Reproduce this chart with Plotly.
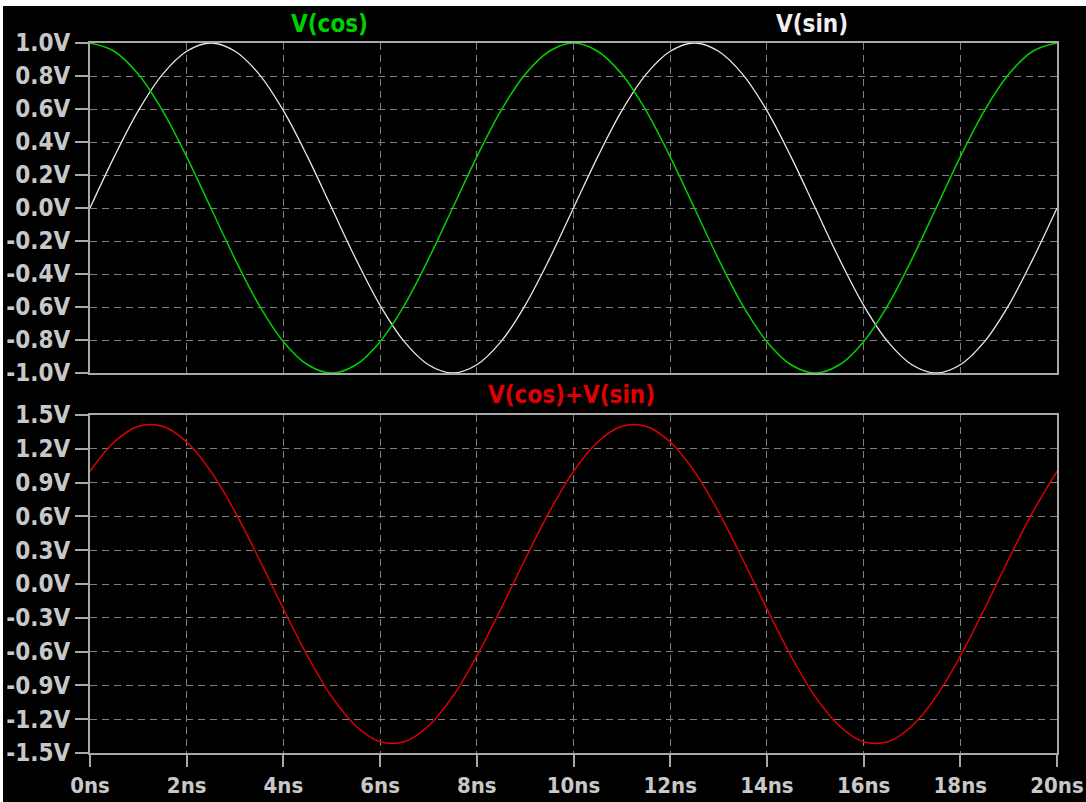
import plotly.graph_objects as go

# time axis (ns)
time_ns = [0.0, 0.5, 1.0, 1.5, 2.0, 2.5, 3.0, 3.5, 4.0, 4.5, 5.0, 5.5, 6.0, 6.5, 7.0, 7.5, 8.0, 8.5, 9.0, 9.5,
           10.0, 10.5, 11.0, 11.5, 12.0, 12.5, 13.0, 13.5, 14.0, 14.5, 15.0, 15.5, 16.0, 16.5, 17.0, 17.5,
           18.0, 18.5, 19.0, 19.5, 20.0]
v_cos = [1.00, 0.95, 0.81, 0.59, 0.31, 0.00, -0.31, -0.59, -0.81, -0.95, -1.00, -0.95, -0.81, -0.59, -0.31,
         0.00, 0.31, 0.59, 0.81, 0.95, 1.00, 0.95, 0.81, 0.59, 0.31, 0.00, -0.31, -0.59, -0.81, -0.95,
         -1.00, -0.95, -0.81, -0.59, -0.31, 0.00, 0.31, 0.59, 0.81, 0.95, 1.00]
v_sin = [0.00, 0.31, 0.59, 0.81, 0.95, 1.00, 0.95, 0.81, 0.59, 0.31, 0.00, -0.31, -0.59, -0.81, -0.95,
         -1.00, -0.95, -0.81, -0.59, -0.31, 0.00, 0.31, 0.59, 0.81, 0.95, 1.00, 0.95, 0.81, 0.59, 0.31,
         0.00, -0.31, -0.59, -0.81, -0.95, -1.00, -0.95, -0.81, -0.59, -0.31, 0.00]
v_sum = [1.00, 1.26, 1.40, 1.40, 1.26, 1.00, 0.64, 0.22, -0.22, -0.64, -1.00, -1.26, -1.40, -1.40, -1.26,
         -1.00, -0.64, -0.22, 0.22, 0.64, 1.00, 1.26, 1.40, 1.40, 1.26, 1.00, 0.64, 0.22, -0.22, -0.64,
         -1.00, -1.26, -1.40, -1.40, -1.26, -1.00, -0.64, -0.22, 0.22, 0.64, 1.00]

x_tickvals = [0, 2, 4, 6, 8, 10, 12, 14, 16, 18, 20]
x_ticktext = ["0ns", "2ns", "4ns", "6ns", "8ns", "10ns", "12ns", "14ns", "16ns", "18ns", "20ns"]
top_tickvals = [1.0, 0.8, 0.6, 0.4, 0.2, 0.0, -0.2, -0.4, -0.6, -0.8, -1.0]
top_ticktext = ["1.0V", "0.8V", "0.6V", "0.4V", "0.2V", "0.0V", "-0.2V", "-0.4V", "-0.6V", "-0.8V", "-1.0V"]
bot_tickvals = [1.5, 1.2, 0.9, 0.6, 0.3, 0.0, -0.3, -0.6, -0.9, -1.2, -1.5]
bot_ticktext = ["1.5V", "1.2V", "0.9V", "0.6V", "0.3V", "0.0V", "-0.3V", "-0.6V", "-0.9V", "-1.2V", "-1.5V"]

FONT = "DejaVu Sans Condensed, Liberation Sans Narrow, DejaVu Sans, sans-serif"
TXT = "#c8c8c8"
AX = "#a8a8a8"
GRID = "#808080"

W, H = 1086, 802
ml, mr, mt, mb = 90, 29, 43, 49
ph = H - mt - mb
pw = W - ml - mr


def py(pix):  # pixel y -> paper y
    return (H - pix - mb) / ph


def px(pix):  # pixel x -> paper x
    return (pix - ml) / pw


fig = go.Figure()
fig.add_trace(go.Scatter(x=time_ns, y=v_sin, mode="lines", line=dict(color="#e8e8e8", width=1.3, shape="spline"),
                         xaxis="x", yaxis="y", name="V(sin)"))
fig.add_trace(go.Scatter(x=time_ns, y=v_cos, mode="lines", line=dict(color="#00d000", width=1.5, shape="spline"),
                         xaxis="x", yaxis="y", name="V(cos)"))
fig.add_trace(go.Scatter(x=time_ns, y=v_sum, mode="lines", line=dict(color="#e00000", width=1.5, shape="spline"),
                         xaxis="x2", yaxis="y2", name="V(cos)+V(sin)"))

y_font = dict(family=FONT, size=24, color=TXT)
x_font = dict(family=FONT, size=22, color=TXT)
common_x = dict(range=[0, 20], tickmode="array", tickvals=x_tickvals, showgrid=True, gridcolor=GRID,
                griddash="7px,5px", gridwidth=1, showline=True, linecolor=AX, linewidth=2, mirror=True,
                zeroline=False, tickfont=x_font, automargin=False, ticklabeloverflow="allow")
common_y = dict(tickmode="array", showgrid=True, gridcolor=GRID, griddash="7px,5px", gridwidth=1, showline=True,
                linecolor=AX, linewidth=2, mirror=True, zeroline=False, ticks="outside", ticklen=13,
                tickcolor=AX, tickwidth=2, tickfont=y_font, automargin=False, ticklabeloverflow="allow")

fig.update_layout(
    width=W, height=H,
    autosize=False,
    margin=dict(l=ml, r=mr, t=mt, b=mb),
    paper_bgcolor="black", plot_bgcolor="black",
    showlegend=False,
    xaxis=dict(**common_x, anchor="y", matches="x2", showticklabels=False, ticks=""),
    yaxis=dict(**common_y, domain=[py(373), 1.0], range=[-1.0, 1.0], tickvals=top_tickvals,
               ticktext=["<b>%s</b>" % t for t in top_ticktext]),
    xaxis2=dict(**common_x, anchor="y2", ticktext=["<b>%s</b>" % t for t in x_ticktext], ticks="outside",
                ticklen=12, tickcolor=AX, tickwidth=2),
    yaxis2=dict(**common_y, domain=[0.0, py(415)], range=[-1.5, 1.5], tickvals=bot_tickvals,
                ticktext=["<b>%s</b>" % t for t in bot_ticktext]),
    annotations=[
        dict(text="<b>V(cos)</b>", x=px(329), y=py(24), xref="paper", yref="paper", showarrow=False,
             xanchor="center", yanchor="middle", font=dict(family=FONT, size=24, color="#00d000")),
        dict(text="<b>V(sin)</b>", x=px(812), y=py(24), xref="paper", yref="paper", showarrow=False,
             xanchor="center", yanchor="middle", font=dict(family=FONT, size=24, color="#f0f0f0")),
        dict(text="<b>V(cos)+V(sin)</b>", x=px(571), y=py(395), xref="paper", yref="paper", showarrow=False,
             xanchor="center", yanchor="middle", font=dict(family=FONT, size=24, color="#e00000")),
    ],
    shapes=[
        dict(type="rect", xref="paper", yref="paper", x0=px(0), x1=px(W), y0=py(6), y1=py(0),
             fillcolor="white", line=dict(width=0), layer="above"),
        dict(type="rect", xref="paper", yref="paper", x0=px(0), x1=px(3), y0=py(H), y1=py(0),
             fillcolor="white", line=dict(width=0), layer="above"),
    ],
)

fig.write_html("out.html")
